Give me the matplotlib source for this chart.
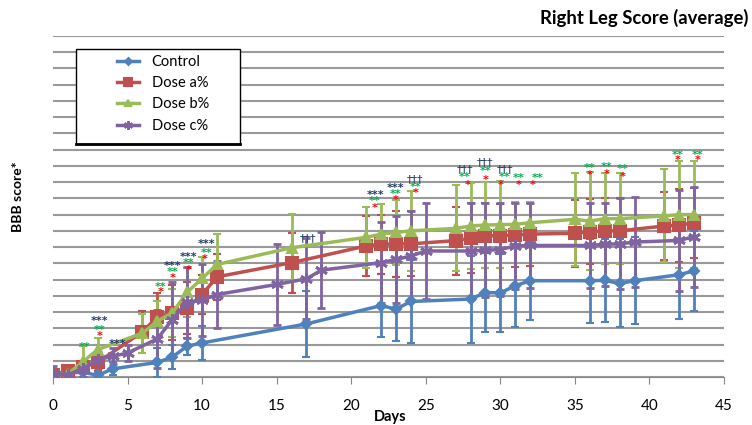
import matplotlib
matplotlib.use("Agg")
import matplotlib.pyplot as plt
import numpy as np
from matplotlib.lines import Line2D
from matplotlib.patches import Rectangle

plt.rcParams["font.family"] = ["Lato", "DejaVu Sans"]

# series data (BBB score, 0-21 scale)
control_days = [0, 1, 2, 3, 4, 7, 8, 9, 10, 17, 22, 23, 24, 28, 29, 30, 31, 32, 36, 37, 38, 39, 42, 43]
control_mean = [0.2, 0.25, 0.3, 0.1, 0.5, 0.9, 1.23, 1.9, 2.1, 3.27, 4.4, 4.18, 4.65, 4.8, 5.2, 5.18,
                5.62, 5.93, 5.93, 5.95, 5.76, 5.93, 6.3, 6.54]
control_err = [0.2, 0.1, 0.3, 0.3, 0.4, 0.9, 0.73, 0.52, 1.03, 2.04, 1.93, 1.96, 2.53, 2.68, 2.42, 2.4,
               2.57, 2.41, 2.58, 2.54, 2.71, 2.68, 2.7, 2.47]

dose_a_days = [0, 1, 2, 3, 6, 7, 8, 9, 10, 11, 16, 21, 22, 23, 24, 27, 28, 29, 30, 31, 32, 35, 36, 37, 38, 41, 42, 43]
dose_a_mean = [0.15, 0.35, 0.6, 0.9, 2.78, 3.7, 3.95, 4.26, 5.08, 6.17, 7.04, 8.07, 8.17, 8.2, 8.2, 8.4,
               8.54, 8.7, 8.7, 8.75, 8.8, 8.85, 8.95, 9.0, 9.0, 9.3, 9.35, 9.5]
dose_a_err = [0.3, 0.2, 0.3, 0.5, 1.3, 1.5, 1.7, 1.6, 1.2, 1.4, 1.85, 1.85, 1.8, 2.05, 2.0, 2.1,
              2.15, 2.0, 1.97, 1.97, 1.94, 2.05, 2.0, 2.05, 2.05, 2.1, 2.25, 2.17]

dose_b_days = [0, 1, 2, 3, 6, 7, 8, 9, 10, 11, 16, 21, 22, 23, 24, 27, 28, 29, 30, 31, 32, 35, 36, 37, 38, 41, 42, 43]
dose_b_mean = [0.15, 0.2, 0.93, 1.69, 2.7, 3.44, 3.95, 5.22, 6.07, 6.93, 7.96, 8.6, 8.8, 8.9, 9.0, 9.15,
               9.3, 9.36, 9.38, 9.4, 9.5, 9.71, 9.6, 9.75, 9.75, 9.92, 10.0, 10.0]
dose_b_err = [0.2, 0.1, 1.0, 0.7, 1.2, 1.23, 1.5, 1.5, 1.3, 1.85, 2.05, 1.9, 1.86, 2.0, 2.45, 2.65,
              2.66, 2.66, 2.66, 1.4, 1.3, 2.85, 3.0, 2.8, 2.8, 2.86, 3.3, 3.3]

dose_c_days = [0, 1, 2, 3, 4, 5, 7, 8, 9, 10, 11, 15, 17, 18, 22, 23, 24, 25, 28, 29, 30, 31, 32,
               36, 37, 38, 39, 42, 43]
dose_c_mean = [0.2, 0.15, 0.5, 1.07, 1.27, 1.48, 2.35, 3.54, 4.6, 4.73, 5.08, 5.7, 6.05, 6.58, 7.04,
               7.24, 7.45, 7.76, 7.76, 7.8, 7.85, 8.07, 8.1, 8.1, 8.17, 8.2, 8.31, 8.41, 8.64]
dose_c_err = [0.5, 0.3, 0.5, 0.5, 0.5, 0.5, 1.8, 2.3, 2.2, 2.2, 2.05, 2.47, 2.5, 2.35, 2.48,
              2.7, 2.8, 2.97, 2.94, 2.9, 2.85, 2.63, 2.6, 2.6, 2.55, 2.8, 2.76, 3.1, 3.08]

# significance marks (day, score level)
triple_star_days = [3.1, 4.3, 8.0, 9.1, 10.3, 21.6, 23.0]
triple_star_y = [3.72, 2.35, 7.16, 7.72, 8.46, 11.48, 11.96]
dagger_days = [17.1, 24.3, 27.6, 29.0, 30.3]
dagger_y = [8.83, 12.51, 13.09, 13.5, 13.09]
double_star_days = [2.1, 3.1, 7.2, 8.0, 9.1, 10.3, 21.6, 23.0, 24.3, 27.6, 29.0, 30.3, 31.2, 32.5,
                    36.0, 37.1, 38.2, 41.9, 43.2]
double_star_y = [2.16, 3.21, 5.82, 6.75, 7.33, 7.94, 11.13, 11.54, 12.0, 12.61, 12.96, 12.61, 12.55,
                 12.55, 13.17, 13.23, 13.09, 13.95, 13.95]
single_star_days = [3.1, 7.2, 8.0, 9.1, 10.2, 21.6, 23.0, 24.3, 27.8, 29.0, 30.0, 31.2, 32.2,
                    36.0, 37.1, 38.2, 41.9, 43.2]
single_star_y = [2.84, 5.51, 6.38, 6.91, 7.59, 10.72, 11.17, 11.62, 12.1, 12.41, 12.1, 12.14, 12.14,
                 12.72, 12.82, 12.61, 13.64, 13.64]

labels = ["Control", "Dose a%", "Dose b%", "Dose c%"]
colors = ["#4F81BD", "#C0504D", "#9BBB59", "#8064A2"]
markers = ["D", "s", "^", (6, 2, 0)]
marker_sizes = [5, 8, 7, 9]

fig = plt.figure(figsize=(7.52, 4.25), dpi=100)
ax = fig.add_axes([53 / 752, 1 - 377 / 425, 671 / 752, 341 / 425])
ax.set_xlim(0, 45)
ax.set_ylim(0, 21)

series = [
    (control_days, control_mean, control_err),
    (dose_a_days, dose_a_mean, dose_a_err),
    (dose_b_days, dose_b_mean, dose_b_err),
    (dose_c_days, dose_c_mean, dose_c_err),
]
for (days, mean, err), color, marker, size in zip(series, colors, markers, marker_sizes):
    ax.errorbar(days, mean, yerr=err, color=color, ecolor=color, elinewidth=2, capsize=3, capthick=2,
                lw=2.5, marker=marker, markersize=size, markeredgewidth=1.5 if marker != markers[3] else 2,
                zorder=3)

for days, ys, text, color, weight in [
    (triple_star_days, triple_star_y, "***", "#1F3864", "bold"),
    (dagger_days, dagger_y, "\u2020\u2020\u2020", "#1F3864", "normal"),
    (double_star_days, double_star_y, "**", "#00B050", "bold"),
    (single_star_days, single_star_y, "*", "#FF0000", "bold"),
]:
    for x, y in zip(days, ys):
        ax.text(x, y - 0.3, text, color=color, fontsize=8, family="DejaVu Sans", fontweight=weight,
                ha="center", va="center", zorder=4)

ax.set_yticks(np.arange(0, 22, 1))
ax.set_yticklabels([])
ax.tick_params(axis="y", length=0)
ax.grid(axis="y", color="#999999", lw=1.5, zorder=0)
ax.set_axisbelow(True)
ax.set_xticks(np.arange(0, 46, 5))
ax.tick_params(axis="x", direction="out", length=5, color="#888888", labelsize=11, pad=11)
for side in ["left", "right", "top"]:
    ax.spines[side].set_visible(False)
ax.spines["bottom"].set_color("#888888")

# legend box
ax.add_patch(Rectangle((0.0343, 0.683), 0.2444, 0.279, transform=ax.transAxes, facecolor="white",
                       edgecolor="black", lw=1, zorder=6))
ax.plot([0.0343, 0.2787], [0.683, 0.683], transform=ax.transAxes, color="black", lw=2, zorder=6)
handles = [Line2D([], [], color=c, lw=2.5, marker=m, markersize=s * 0.7, markeredgewidth=1.5)
           for c, m, s in zip(colors, markers, marker_sizes)]
legend = ax.legend(handles, labels, loc="upper left", bbox_to_anchor=(0.095, 0.945), frameon=False,
                   fontsize=10.5, handlelength=1.5, handletextpad=0.9, labelspacing=0.5,
                   borderpad=0, borderaxespad=0)
legend.set_zorder(7)

fig.text(748 / 752, 1 - 18 / 425, "Right Leg Score (average)", ha="right", va="center",
         fontsize=13.3, fontweight="bold")
fig.text(390 / 752, 1 - 417 / 425, "Days", ha="center", va="center", fontsize=10.5, fontweight="bold")
fig.text(18 / 752, 1 - 197 / 425, "BBB score*", ha="center", va="center", rotation=90,
         fontsize=10, fontweight="bold")

fig.savefig("out.png", dpi=100)
